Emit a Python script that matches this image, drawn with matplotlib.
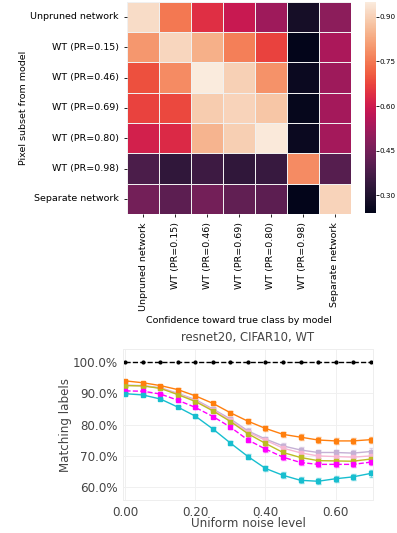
import numpy as np
import matplotlib
matplotlib.use("Agg")
import matplotlib.pyplot as plt
import seaborn as sns
from matplotlib.ticker import PercentFormatter, FormatStrFormatter

# heatmap data
models = ["Unpruned network", "WT (PR=0.15)", "WT (PR=0.46)", "WT (PR=0.69)",
          "WT (PR=0.80)", "WT (PR=0.98)", "Separate network"]
conf = [
    [0.92, 0.75, 0.64, 0.59, 0.52, 0.28, 0.49],
    [0.80, 0.91, 0.84, 0.76, 0.67, 0.24, 0.54],
    [0.69, 0.78, 0.95, 0.90, 0.79, 0.26, 0.52],
    [0.67, 0.68, 0.89, 0.905, 0.88, 0.25, 0.53],
    [0.61, 0.63, 0.85, 0.895, 0.945, 0.26, 0.53],
    [0.38, 0.33, 0.355, 0.33, 0.345, 0.78, 0.40],
    [0.45, 0.41, 0.45, 0.42, 0.41, 0.24, 0.905],
]
cbar_ticks = [0.30, 0.45, 0.60, 0.75, 0.90]

# line chart data
noise = [0.00, 0.05, 0.10, 0.15, 0.20, 0.25, 0.30, 0.35, 0.40, 0.45, 0.50, 0.55, 0.60, 0.65, 0.70]
same_net = [100.0] * 15
orange = [94.0, 93.4, 92.5, 91.2, 89.2, 86.8, 83.8, 81.1, 78.8, 76.9, 76.0, 75.1, 74.8, 74.8, 75.2]
lavender = [92.6, 92.5, 91.8, 90.0, 88.0, 85.0, 81.8, 78.0, 75.4, 73.2, 71.9, 71.1, 71.1, 70.9, 71.4]
pink = [92.6, 92.4, 91.7, 89.8, 87.7, 84.7, 81.4, 77.6, 75.0, 72.5, 71.0, 70.0, 69.8, 69.6, 70.0]
olive = [92.5, 92.4, 91.6, 89.6, 87.4, 84.4, 81.0, 77.1, 74.0, 71.1, 69.5, 68.5, 68.4, 68.3, 69.0]
magenta = [90.8, 90.7, 89.8, 87.8, 85.5, 82.6, 79.2, 75.1, 72.2, 69.6, 67.9, 67.3, 67.3, 67.3, 68.0]
cyan = [89.9, 89.5, 88.2, 85.6, 82.7, 78.6, 74.1, 69.8, 66.0, 63.8, 62.2, 61.9, 62.7, 63.3, 64.4]
err = [0.3, 0.3, 0.3, 0.4, 0.5, 0.6, 0.7, 0.8, 0.8, 0.9, 0.9, 0.9, 0.9, 1.0, 1.0]

fig = plt.figure(figsize=(3.97, 5.33), dpi=100)

# --- heatmap ---
ax1 = fig.add_axes([0.3207, 0.5985, 0.5627, 0.3983])
cax = fig.add_axes([0.9194, 0.6004, 0.027, 0.3958])
sns.heatmap(np.array(conf), ax=ax1, cbar_ax=cax, cmap="rocket",
            linewidths=0.5, linecolor="#f0f0f0",
            xticklabels=models, yticklabels=models)
ax1.tick_params(labelsize=6.8, length=2.5, width=0.6)
ax1.set_xticklabels(models, rotation=90)
ax1.set_yticklabels(models, rotation=0)
ax1.set_xlabel("Confidence toward true class by model", fontsize=6.8)
ax1.set_ylabel("Pixel subset from model", fontsize=6.8, labelpad=2)
cax.set_yticks(cbar_ticks)
cax.yaxis.set_major_formatter(FormatStrFormatter("%.2f"))
# labels squeezed so they fit inside the canvas
cax.tick_params(labelsize=5.2, length=2, width=0.6, pad=1)
for s in cax.spines.values():
    s.set_visible(False)

# --- line chart ---
ax2 = fig.add_axes([0.3098, 0.0619, 0.6297, 0.2833])
ax2.grid(True, color="#f0f0f0", linewidth=0.7)
ax2.set_axisbelow(True)
for s in ax2.spines.values():
    s.set_color("#eeeeee")
    s.set_linewidth(0.7)

series = [
    (lavender, "#c5b0d5", "-"),
    (pink, "#f7b6d2", "-"),
    (olive, "#bcbd22", "-"),
    (orange, "#ff7f0e", "-"),
    (magenta, "#ff00ff", "--"),
    (cyan, "#17becf", "-"),
]
for vals, col, ls in series:
    ax2.errorbar(noise, vals, yerr=err, color=col, ls=ls, lw=1.0,
                 marker="s", ms=2.2, capsize=1.8, elinewidth=0.8,
                 ecolor=matplotlib.colors.to_rgba(col, 0.5))
ax2.plot(noise, same_net, color="black", ls="--", lw=1.0, marker="o", ms=2)

ax2.set_xlim(-0.007, 0.707)
ax2.set_ylim(55.9, 104.2)
ax2.set_xticks([0.0, 0.2, 0.4, 0.6])
ax2.set_yticks([60, 70, 80, 90, 100])
ax2.xaxis.set_major_formatter(FormatStrFormatter("%.2f"))
ax2.yaxis.set_major_formatter(PercentFormatter(decimals=1))
ax2.tick_params(length=0, labelsize=8.6, labelcolor="#444444", pad=4)
ax2.set_title("resnet20, CIFAR10, WT", fontsize=8.4, color="#444444", pad=6)
ax2.set_xlabel("Uniform noise level", fontsize=8.6, color="#444444", labelpad=-1)
ax2.set_ylabel("Matching labels", fontsize=8.6, color="#444444", labelpad=0)

fig.savefig("out.png", dpi=100)
